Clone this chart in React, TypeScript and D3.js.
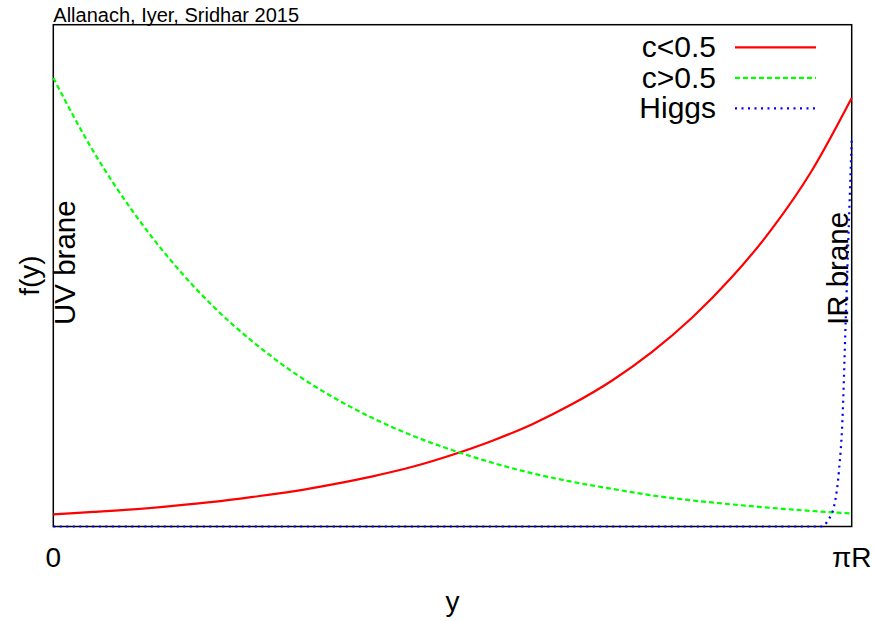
import React from 'react'
import * as d3 from 'd3'

// profiles, y normalised so that the frame spans 0..1
const yGrid = [0, 0.05, 0.1, 0.15, 0.2, 0.25, 0.3, 0.35, 0.4, 0.45, 0.5, 0.55, 0.6, 0.65, 0.7, 0.75, 0.8, 0.85, 0.9, 0.95, 1]
const cBelow = [0.024, 0.029, 0.034, 0.041, 0.049, 0.059, 0.07, 0.084, 0.1, 0.119, 0.143, 0.171, 0.204, 0.244, 0.291, 0.348, 0.416, 0.497, 0.593, 0.709, 0.854]
const cAbove = [0.894, 0.748, 0.627, 0.525, 0.439, 0.368, 0.308, 0.258, 0.216, 0.181, 0.152, 0.127, 0.106, 0.089, 0.075, 0.062, 0.052, 0.044, 0.037, 0.031, 0.026]
const higgsY = [0, 0.5, 0.962, 0.9703, 0.9787, 0.9841, 0.9884, 0.9925, 0.9966, 1]
const higgsF = [0, 0, 0, 0.012, 0.046, 0.112, 0.212, 0.411, 0.611, 0.77]

const tickPos = [0, 1]
const tickLabels = ['0', 'πR']
const seriesNames = ['c<0.5', 'c>0.5', 'Higgs']
const seriesColors = ['#ff0000', '#00ff00', '#0000ff']
const seriesDash = ['none', '5,3', '2,4.5']

const W = 873
const H = 621
const left = 53.3
const right = 851.7
const top = 24.7
const bottom = 526.5
const font = '"Liberation Sans", Arial, sans-serif'

const App: React.FC = () => {
    const x = d3.scaleLinear().domain([0, 1]).range([left, right])
    const y = d3.scaleLinear().domain([0, 1]).range([bottom, top])

    const line = d3
        .line<[number, number]>()
        .x((d) => x(d[0]))
        .y((d) => y(d[1]))
        .curve(d3.curveMonotoneX)

    const series: [number, number][][] = [
        yGrid.map((v, i) => [v, cBelow[i]]),
        yGrid.map((v, i) => [v, cAbove[i]]),
        higgsY.map((v, i) => [v, higgsF[i]]),
    ]

    return (
        <svg
            width={W}
            height={H}
            style={{ position: 'absolute', left: 0, top: 0, background: '#fff' }}
            fontFamily={font}
        >
            <rect x={0} y={0} width={W} height={H} fill="#fff" />

            {/* title */}
            <text x={left} y={22} fontSize={20} fill="#000">
                Allanach, Iyer, Sridhar 2015
            </text>

            {/* frame */}
            <rect
                x={left}
                y={top}
                width={right - left}
                height={bottom - top}
                fill="none"
                stroke="#000"
                strokeWidth={1.5}
            />

            {/* brane labels */}
            <text transform={`translate(75,325) rotate(-90)`} fontSize={29.5} textAnchor="start">
                UV brane
            </text>
            <text transform={`translate(848,325) rotate(-90)`} fontSize={29.5} textAnchor="start">
                IR brane
            </text>

            {/* curves */}
            {series.map((s, i) => (
                <path
                    key={seriesNames[i]}
                    d={line(s) || ''}
                    fill="none"
                    stroke={seriesColors[i]}
                    strokeWidth={2.2}
                    strokeDasharray={seriesDash[i]}
                />
            ))}

            {/* x ticks */}
            {tickPos.map((t, i) => (
                <text key={t} x={x(t)} y={567} fontSize={28} textAnchor="middle">
                    {tickLabels[i]}
                </text>
            ))}

            {/* axis labels */}
            <text x={(left + right) / 2} y={611} fontSize={28} textAnchor="middle">
                y
            </text>
            <text
                transform={`translate(39,${(top + bottom) / 2}) rotate(-90)`}
                fontSize={28}
                textAnchor="middle"
            >
                f(y)
            </text>

            {/* legend */}
            {seriesNames.map((name, i) => {
                const ly = 47.3 + i * 30.5
                return (
                    <g key={name}>
                        <text x={716} y={ly + 10} fontSize={30} textAnchor="end">
                            {name}
                        </text>
                        <line
                            x1={735}
                            x2={816}
                            y1={ly}
                            y2={ly}
                            stroke={seriesColors[i]}
                            strokeWidth={2.2}
                            strokeDasharray={seriesDash[i]}
                        />
                    </g>
                )
            })}
        </svg>
    )
}

export default App
